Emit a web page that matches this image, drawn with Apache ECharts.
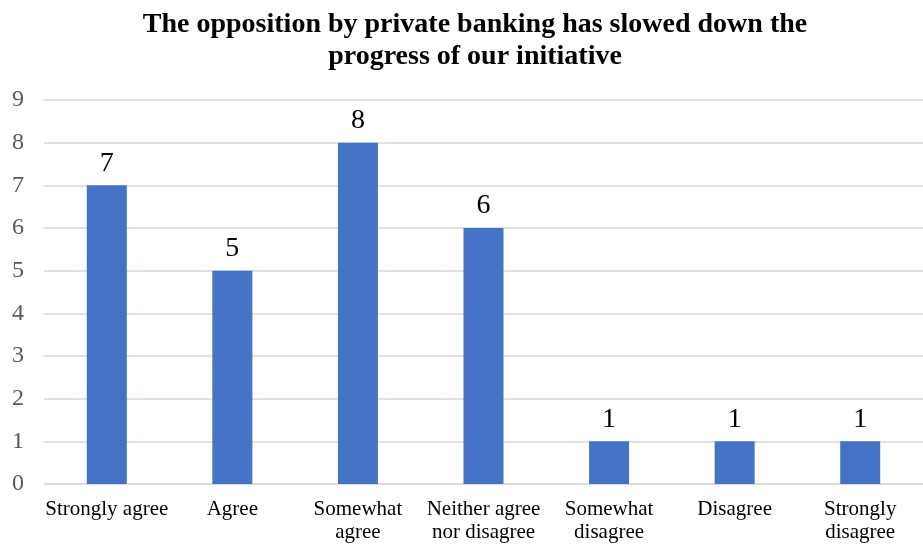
<!DOCTYPE html>
<html>
<head>
<meta charset="utf-8">
<script src="https://cdn.jsdelivr.net/npm/echarts@6/dist/echarts.min.js"></script>
<style>
  html, body { margin: 0; padding: 0; background: #fff; }
  #chart { width: 923px; height: 544px; }
</style>
</head>
<body>
<div id="chart"></div>
<script>
// chart data
const categories = ['Strongly agree', 'Agree', 'Somewhat\nagree', 'Neither agree\nnor disagree', 'Somewhat\ndisagree', 'Disagree', 'Strongly\ndisagree'];
const counts = [7, 5, 8, 6, 1, 1, 1];
const titleText = 'The opposition by private banking has slowed down the\nprogress of our initiative';

const serif = '"Liberation Serif", "Times New Roman", serif';
let myChart = echarts.init(document.getElementById('chart'));
let option = {
    backgroundColor: '#fff',
    animation: false,
    title: {
        text: titleText,
        left: 470,
        textAlign: 'center',
        top: 4,
        textStyle: {
            fontFamily: serif,
            fontWeight: 'bold',
            fontSize: 28,
            lineHeight: 32,
            color: '#000'
        }
    },
    grid: {
        left: 44,
        right: 0,
        top: 100,
        bottom: 60,
        containLabel: false,
        outerBoundsMode: 'none'
    },
    xAxis: {
        type: 'category',
        data: categories,
        axisTick: { show: false },
        axisLine: { lineStyle: { color: '#d9d9d9', width: 1.5 } },
        axisLabel: {
            interval: 0,
            margin: 14,
            fontFamily: serif,
            fontSize: 21,
            lineHeight: 23,
            color: '#000'
        }
    },
    yAxis: {
        type: 'value',
        min: 0,
        max: 9,
        interval: 1,
        axisLine: { show: false },
        axisTick: { show: false },
        splitLine: { lineStyle: { color: '#d9d9d9', width: 1.5 } },
        axisLabel: {
            margin: 20,
            fontFamily: serif,
            fontSize: 24,
            color: '#595959'
        }
    },
    series: [{
        type: 'bar',
        data: counts,
        barWidth: 40,
        itemStyle: { color: '#4472c4' },
        label: {
            show: true,
            position: 'top',
            distance: 8,
            fontFamily: serif,
            fontSize: 28,
            color: '#000'
        }
    }]
};
myChart.setOption(option);
</script>
</body>
</html>
